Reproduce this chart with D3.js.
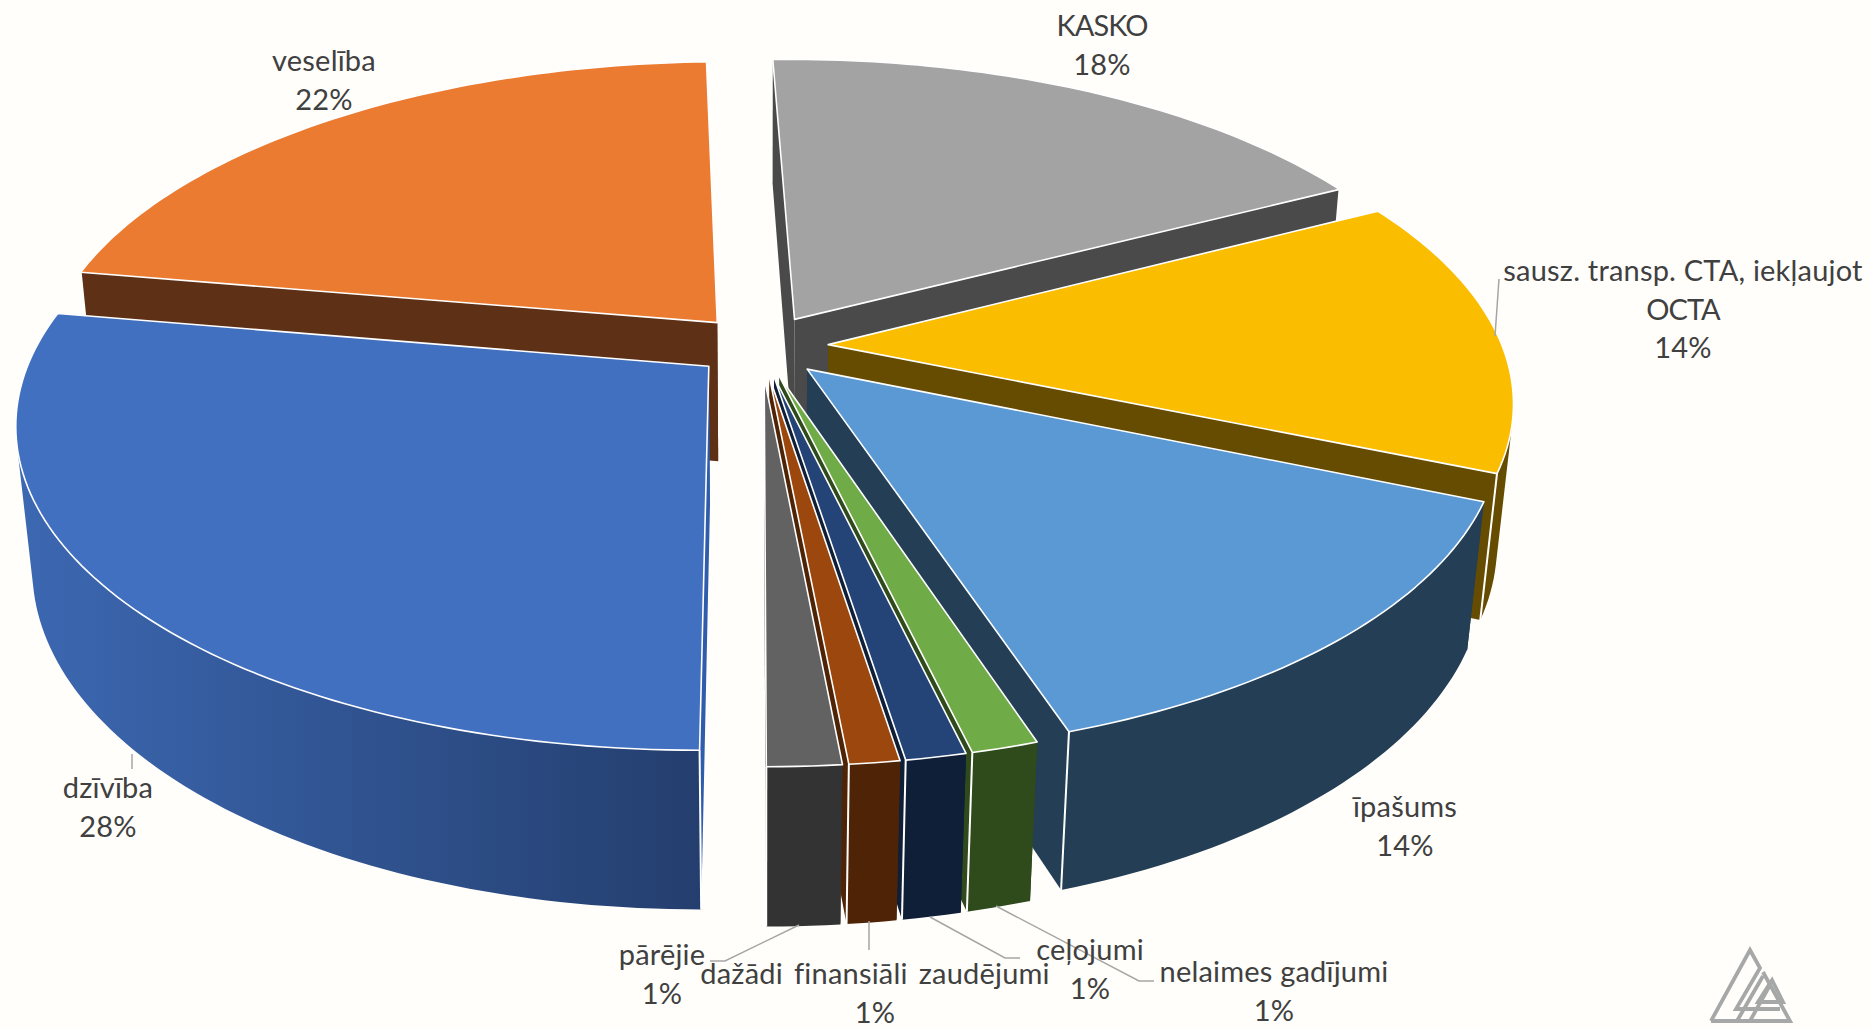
<!DOCTYPE html>
<html><head><meta charset="utf-8">
<script src="https://cdnjs.cloudflare.com/ajax/libs/d3/7.8.5/d3.min.js"></script>
<style>html,body{margin:0;padding:0;background:#fffefb}svg{display:block}</style>
</head><body><svg id="c" width="1870" height="1029"></svg>
<script>
// DATA
const categories = ["dzīvība","veselība","KASKO","sausz. transp. CTA, iekļaujot OCTA","īpašums","nelaimes gadījumi","ceļojumi","dažādi finansiāli zaudējumi","pārējie"];
const shares = [27.75,21.8,17.83,13.97,13.64,1.33,1.2,1.0,1.47];
const shownPercent = [28,22,18,14,14,1,1,1,1];
const topColors = ["#4270C0","#EB7B30","#A3A3A3","#FBBD00","#5A99D4","#6FAB46","#244377","#9C470E","#626262"];
const wallColors = ["#2F5090","#5E3117","#4A4A4A","#664C00","#243F55","#2F4A1B","#101F38","#4F2406","#333333"];
const drawOrder = [1,2,3,4,5,6,7,8,0];
const labelLines = [["dzīvība"],["veselība"],["KASKO"],["sausz. transp. CTA, iekļaujot","OCTA"],["īpašums"],["nelaimes gadījumi"],["ceļojumi"],["dažādi finansiāli zaudējumi"],["pārējie"]];
const labelAnchors = [[108,787],[324,60],[1102,25],[1683,270],[1405,806],[1274,971],[1090,949],[875,973],[662,954]];
const leaders = [
  [[132,754],[132,769]],
  [[1495,336],[1499,279]],
  [[996,906],[1139,981],[1154,981]],
  [[930,917],[1005,958],[1020,958]],
  [[869,921],[869,950]],
  [[799,925],[725,961],[710,961]]
];
const startDeg = 179.9;

// projection of the pie plane (perspective)
const cx=760.9, cy=345.9, S=674, A=311.9, k=0.168, H=143, m=0.0218, explode=0.1;
const project=(X,Y,Z)=>{const w=1-k*Y+m*Z;return [cx+S*X/w, cy+(A*Y+H*Z)/w];};

const svg=d3.select("#c");
svg.append("rect").attr("width",1870).attr("height",1029).attr("fill","#fffefb");
const defs=svg.append("defs");
const grad=defs.append("linearGradient").attr("id","wall0").attr("gradientUnits","userSpaceOnUse")
  .attr("x1",20).attr("x2",700).attr("y1",0).attr("y2",0);
grad.append("stop").attr("offset",0).attr("stop-color","#3C68B2");
grad.append("stop").attr("offset",1).attr("stop-color","#243E6E");

const arcs=d3.pie().sort(null).value(d=>d)
  .startAngle(startDeg*Math.PI/180).endAngle((startDeg+360)*Math.PI/180)(shares);
const line=d3.line();
const poly=p=>line(p)+"Z";

const g=svg.append("g");
drawOrder.forEach(i=>{
  const a=arcs[i], mid=(a.startAngle+a.endAngle)/2;
  const ox=explode*Math.sin(mid), oy=-explode*Math.cos(mid);
  const n=Math.max(4,Math.ceil((a.endAngle-a.startAngle)/0.02));
  const angles=d3.range(n+1).map(j=>a.startAngle+(a.endAngle-a.startAngle)*j/n);
  const rim=z=>angles.map(t=>project(ox+Math.sin(t),oy-Math.cos(t),z));
  const apex=z=>project(ox,oy,z);
  const top=rim(0), bot=rim(1);
  const wall=i===0?"url(#wall0)":wallColors[i];
  const mg=g.append("g").attr("class","slice");
  // radial walls
  const rf=i===0?"#2F5CAB":wallColors[i];
  mg.append("path").attr("d",poly([apex(0),top[0],bot[0],apex(1)])).attr("fill",rf);
  mg.append("path").attr("d",poly([apex(0),top[n],bot[n],apex(1)])).attr("fill",rf);
  // outer wall: camera-facing quads only, so the silhouette edge is kept
  const quads=d3.range(n).map(j=>[top[j],top[j+1],bot[j+1],bot[j]]).filter(q=>d3.polygonArea(q)>0);
  if(quads.length) mg.append("path").attr("d",quads.map(poly).join("")).attr("fill",wall);
  // front corner edge
  const cornerIdx = (mid%(2*Math.PI))<Math.PI ? n : 0;
  mg.append("path").attr("d",line([top[cornerIdx],bot[cornerIdx]])).attr("stroke","#fff").attr("stroke-width",2).attr("fill","none");
  // top face
  mg.append("path").attr("d",poly([apex(0)].concat(top))).attr("fill",topColors[i]).attr("stroke","#fff").attr("stroke-width",1.6).attr("stroke-linejoin","round");
});

// leader lines
svg.append("g").selectAll("path").data(leaders).join("path")
  .attr("d",d=>line(d)).attr("fill","none").attr("stroke","#A6A6A6").attr("stroke-width",1.5);

// labels
const fmt=d3.format(".0%");
const lh=38.5;
const tg=svg.append("g").attr("font-family","Lato, 'Open Sans', sans-serif").attr("font-size",29).attr("letter-spacing",0.2).attr("fill","#404040").attr("text-anchor","middle");
categories.forEach((c,i)=>{
  const [x,y]=labelAnchors[i];
  const t=tg.append("text").attr("x",x).attr("y",y+11).attr("data-cat",c);
  labelLines[i].concat([fmt(shownPercent[i]/100)]).forEach((s,j)=>{
    const ts=t.append("tspan").attr("x",x).attr("dy",j?lh:0).text(s);
    if(s===s.toUpperCase() && /[A-Z]{4}/.test(s)) ts.attr("letter-spacing",-1);
    if(s.includes("finansiāli")) ts.attr("word-spacing",3.5);
  });
});

// logo
const logo=svg.append("g").attr("fill","none").attr("stroke","#A6A8A8").attr("stroke-width",3.8).attr("stroke-linejoin","miter");
["M1711,1021L1750,950L1760,968L1736,1009L1780,1009",
 "M1763,972L1790,1021L1711,1021",
 "M1737,1021L1763,976M1750,1021L1770,985",
 "M1758,1002L1772,980L1783,1002Z"].forEach(d=>logo.append("path").attr("d",d));
</script></body></html>
